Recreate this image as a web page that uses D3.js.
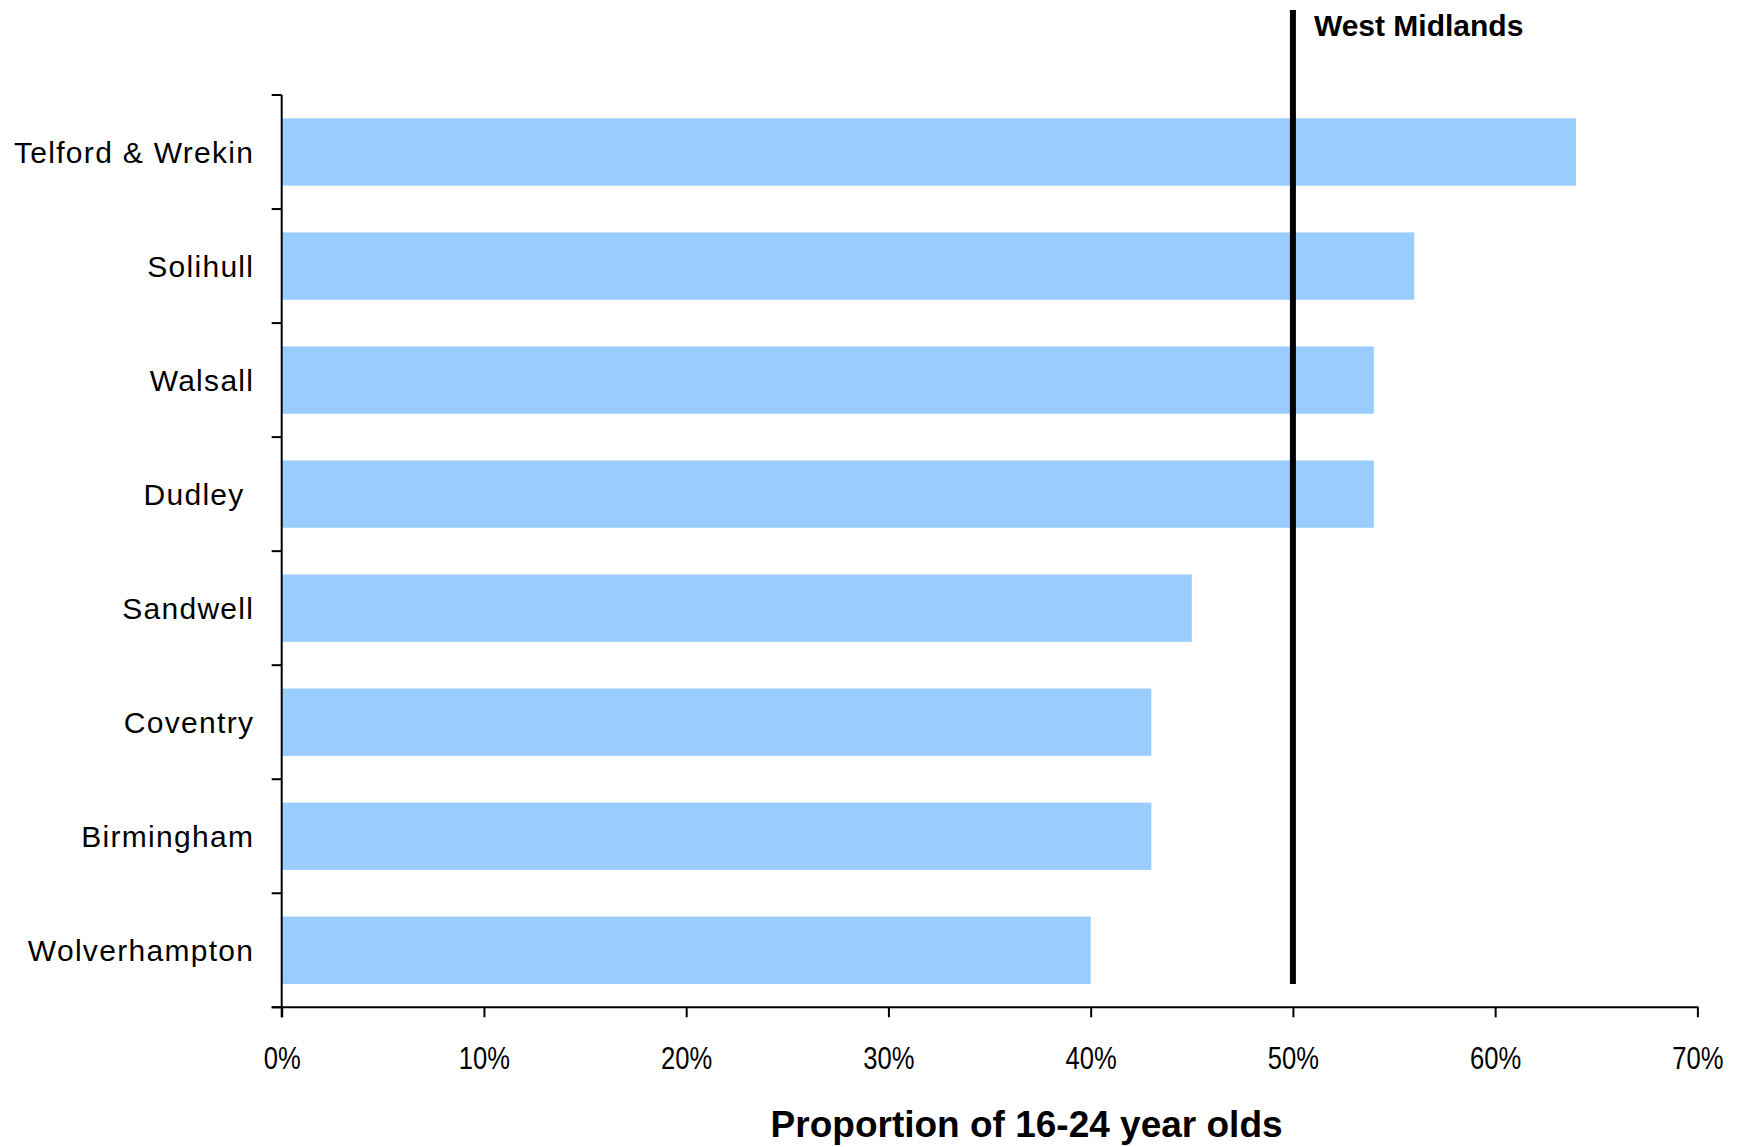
<!DOCTYPE html>
<html>
<head>
<meta charset="utf-8">
<script src="https://cdn.jsdelivr.net/npm/d3@7"></script>
<style>
  html, body { margin: 0; padding: 0; background: #fff; }
  svg { display: block; }
</style>
</head>
<body>
<svg id="chart" width="1743" height="1147"></svg>
<script>
// ---- Data ----
const categories = ["Telford & Wrekin", "Solihull", "Walsall", "Dudley ", "Sandwell", "Coventry", "Birmingham", "Wolverhampton"];
const values = [0.64, 0.56, 0.54, 0.54, 0.45, 0.43, 0.43, 0.40];
const xTicks = [0, 0.1, 0.2, 0.3, 0.4, 0.5, 0.6, 0.7];
const referenceValue = 0.50;
const referenceLabel = "West Midlands";
const xAxisTitle = "Proportion of 16-24 year olds";

(function () {
// ---- Layout ----
const plotLeft = 281.7, plotRight = 1697.4, plotTop = 95, plotBottom = 1007.3;
const svg = d3.select("#chart");

const x = d3.scaleLinear().domain([0, 0.7]).range([plotLeft, plotRight]);
const y = d3.scaleBand().domain(categories).range([plotTop, plotBottom])
  .paddingInner(0.41).paddingOuter(0.205);
const step = y.step();
const gridStart = y.range()[0];

// Bars
svg.append("g").selectAll("rect")
  .data(categories)
  .join("rect")
  .attr("x", x(0))
  .attr("y", d => y(d))
  .attr("width", (d, i) => x(values[i]) - x(0))
  .attr("height", y.bandwidth())
  .attr("fill", "#99CCFF");

// Reference line
svg.append("line")
  .attr("x1", x(referenceValue)).attr("x2", x(referenceValue))
  .attr("y1", 10).attr("y2", 984)
  .attr("stroke", "#000").attr("stroke-width", 6);

svg.append("text")
  .attr("x", x(referenceValue) + 21)
  .attr("y", 36)
  .attr("font-family", "'Liberation Sans', Arial, sans-serif")
  .attr("font-weight", "bold")
  .attr("font-size", 30)
  .attr("fill", "#000")
  .text(referenceLabel);

// X axis
const xAxis = d3.axisBottom(x)
  .tickValues(xTicks)
  .tickFormat(d3.format(".0%"))
  .tickSize(10)
  .tickPadding(0);

const gx = svg.append("g").attr("transform", `translate(0,${plotBottom})`).call(xAxis);
gx.select(".domain").remove();
gx.selectAll(".tick line").attr("stroke", "#000").attr("stroke-width", 2);
gx.selectAll(".tick text")
  .attr("y", 62)
  .attr("dy", 0)
  .attr("transform", "scale(0.84,1)")
  .attr("font-family", "'Liberation Sans', Arial, sans-serif")
  .attr("font-size", 30.5)
  .attr("fill", "#000");

svg.append("line")
  .attr("x1", plotLeft - 10).attr("x2", plotRight + 1)
  .attr("y1", plotBottom).attr("y2", plotBottom)
  .attr("stroke", "#000").attr("stroke-width", 2);

// Y axis line and boundary ticks
svg.append("line")
  .attr("x1", plotLeft).attr("x2", plotLeft)
  .attr("y1", plotTop).attr("y2", plotBottom + 10)
  .attr("stroke", "#000").attr("stroke-width", 2);

svg.append("g").selectAll("line")
  .data(d3.range(categories.length + 1))
  .join("line")
  .attr("x1", plotLeft - 10).attr("x2", plotLeft)
  .attr("y1", i => gridStart + i * step)
  .attr("y2", i => gridStart + i * step)
  .attr("stroke", "#000").attr("stroke-width", 2);

// Category labels
const ls = 1.3;
svg.append("g").selectAll("text")
  .data(categories)
  .join("text")
  .attr("x", 253 + ls)
  .attr("y", d => y(d) + y.bandwidth() / 2)
  .attr("dy", "0.36em")
  .attr("text-anchor", "end")
  .style("white-space", "pre")
  .attr("letter-spacing", ls)
  .attr("font-family", "'Liberation Sans', Arial, sans-serif")
  .attr("font-size", 30)
  .attr("fill", "#000")
  .text(d => d);

// X axis title
svg.append("text")
  .attr("x", 1026.6)
  .attr("y", 1137)
  .attr("text-anchor", "middle")
  .attr("font-family", "'Liberation Sans', Arial, sans-serif")
  .attr("font-weight", "bold")
  .attr("font-size", 37)
  .attr("fill", "#000")
  .text(xAxisTitle);
})();
</script>
</body>
</html>
